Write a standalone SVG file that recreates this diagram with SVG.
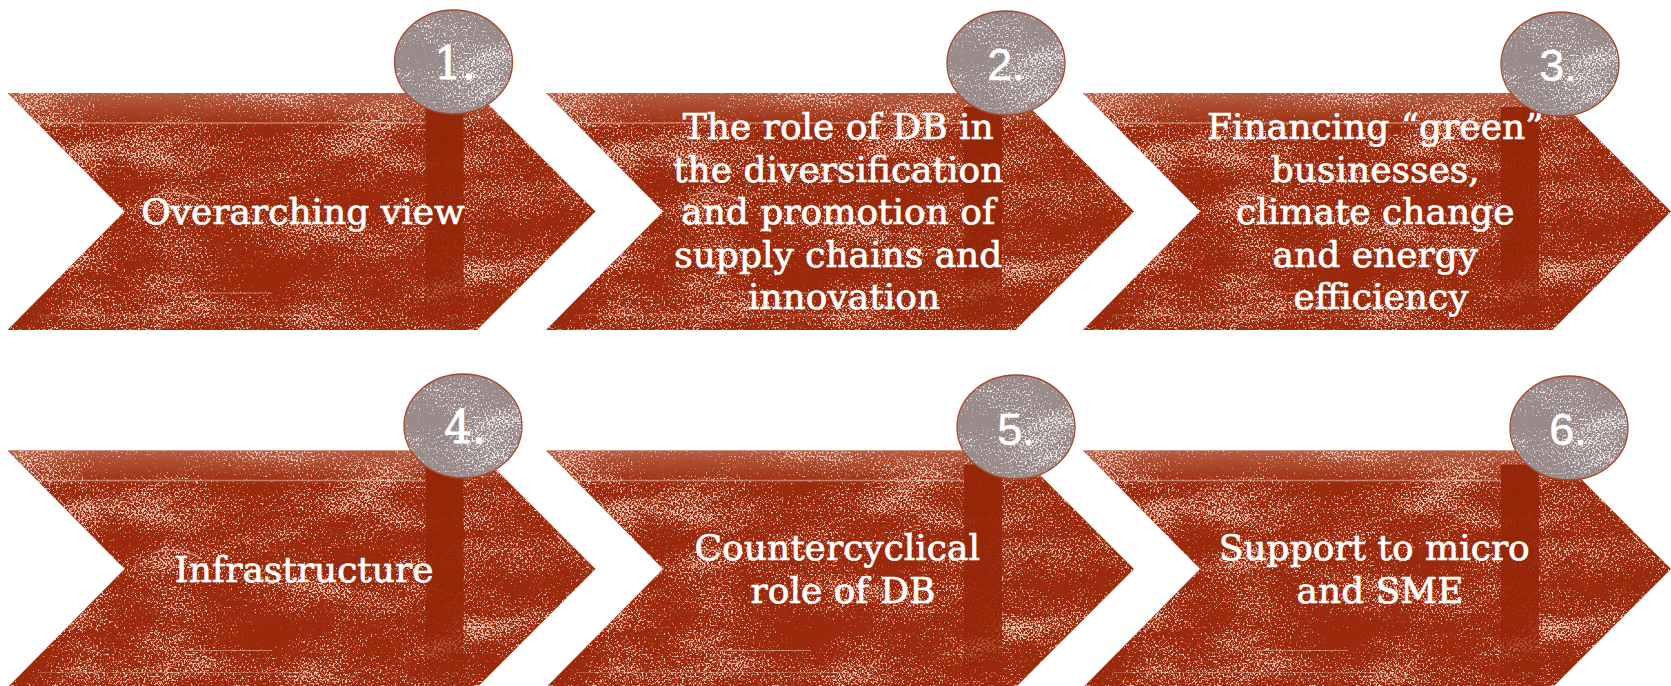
<svg xmlns="http://www.w3.org/2000/svg" xmlns:xlink="http://www.w3.org/1999/xlink" width="1671" height="686" viewBox="0 0 1671 686">
  <style>
    .label { font-family: "DejaVu Serif", "Liberation Serif", serif; font-size: 36px; fill: #ffffff; stroke: #ffffff; stroke-width: 0.7px; text-anchor: middle; }
    .num-sans { font-family: "Liberation Sans", Arial, sans-serif; font-size: 45px; fill: #ffffff; stroke: #ffffff; stroke-width: 0.5px; text-anchor: middle; }
    .num-serif { font-family: "DejaVu Serif", "Liberation Serif", serif; font-size: 44px; fill: #ffffff; stroke: #ffffff; stroke-width: 0.8px; text-anchor: middle; }
    .badge-rim { fill: none; stroke: #a4492f; stroke-width: 1.3; }
  </style>
  <defs>
    <!-- grain: fine noise nudged by a coarse noise, thresholded into small speckles -->
    <filter id="speck" x="0" y="0" width="1" height="1" color-interpolation-filters="sRGB">
      <feTurbulence type="fractalNoise" baseFrequency="0.55" numOctaves="2" seed="7" result="fineRaw"/>
      <feColorMatrix in="fineRaw" type="matrix" values="1 0 0 0 0  0 1 0 0 0  0 0 1 0 0  0 0 0 0 1" result="fine"/>
      <feTurbulence type="fractalNoise" baseFrequency="0.01 0.025" numOctaves="3" seed="11" result="coarseRaw"/>
      <feColorMatrix in="coarseRaw" type="matrix" values="1 0 0 0 0  0 1 0 0 0  0 0 1 0 0  0 0 0 0 1" result="coarse"/>
      <feComposite in="fine" in2="coarse" operator="arithmetic" k1="0" k2="1" k3="0.5" k4="-0.25" result="mix"/>
      <feColorMatrix in="mix" type="matrix" values="0 0 0 0 0  0 0 0 0 0  0 0 0 0 0  7 0 0 0 -4.05" result="mask"/>
      <feComposite in="SourceGraphic" in2="mask" operator="in"/>
    </filter>

    <linearGradient id="stripeFade" x1="0" y1="0" x2="0" y2="1">
      <stop offset="0" stop-color="#942506" stop-opacity="0.95"/>
      <stop offset="0.7" stop-color="#942506" stop-opacity="0.85"/>
      <stop offset="1" stop-color="#942506" stop-opacity="0.3"/>
    </linearGradient>
    <linearGradient id="topHaze" x1="0" y1="0" x2="0" y2="1">
      <stop offset="0" stop-color="#f2d3c5" stop-opacity="0.3"/>
      <stop offset="1" stop-color="#f2d3c5" stop-opacity="0"/>
    </linearGradient>

    <clipPath id="chevClip">
      <path d="M0,0 H469.5 L588,118.5 L469.5,237 H0 L117,118.5 Z"/>
    </clipPath>
    <clipPath id="badgeClip">
      <ellipse cx="0" cy="0" rx="59" ry="52"/>
    </clipPath>

    <!-- textured chevron block, drawn at the origin -->
    <g id="chevron">
      <path d="M0,0 H469.5 L588,118.5 L469.5,237 H0 L117,118.5 Z" fill="#9a2a0b"/>
      <g clip-path="url(#chevClip)">
        <rect x="0" y="0" width="588" height="36" fill="url(#topHaze)"/>
        <rect x="0" y="0" width="588" height="237" fill="#f0c4b2" filter="url(#speck)"/>
        <rect x="418" y="14" width="38" height="223" fill="url(#stripeFade)"/>
        <path d="M40,30 H418" stroke="#f0c9b9" stroke-width="1.4" opacity="0.5"/>
        <path d="M145,103 q12,-5 26,-3 q12,2 22,7" stroke="#f0c9b9" stroke-width="1.3" fill="none" opacity="0.6"/>
        <path d="M175,200 H265" stroke="#f0c9b9" stroke-width="1.2" opacity="0.5"/>
        <path d="M30,222 H300" stroke="#f0c9b9" stroke-width="1.1" opacity="0.3"/>
      </g>
    </g>

    <!-- textured number badge, centred on the origin -->
    <g id="badge">
      <ellipse cx="0" cy="0" rx="59" ry="52" fill="#9a8b8b"/>
      <g clip-path="url(#badgeClip)">
        <rect x="-59" y="-52" width="118" height="104" fill="#ece6e6" filter="url(#speck)"/>
      </g>
      <ellipse class="badge-rim" cx="0" cy="0" rx="59" ry="52"/>
    </g>
  </defs>

  <rect x="0" y="0" width="1671" height="686" fill="#ffffff"/>

  <!-- step chain (chevrons abut one another; no separate connectors) -->
  <g id="connectors"/>

  <g id="step1">
    <use xlink:href="#chevron" href="#chevron" x="7.5" y="93"/>
    <text class="label" x="303" y="224">Overarching view</text>
    <use xlink:href="#badge" href="#badge" x="453.5" y="62"/>
    <text class="num-serif" x="455" y="79">1.</text>
  </g>

  <g id="step2">
    <use xlink:href="#chevron" href="#chevron" x="546" y="93"/>
    <text class="label" x="844">
      <tspan x="844" y="139">The role of DB in</tspan>
      <tspan x="844" y="181.5">the diversification</tspan>
      <tspan x="844" y="224">and promotion of</tspan>
      <tspan x="844" y="266.5">supply chains and</tspan>
      <tspan x="844" y="309">innovation</tspan>
    </text>
    <use xlink:href="#badge" href="#badge" x="1006" y="63"/>
    <text class="num-sans" x="1006" y="80">2.</text>
  </g>

  <g id="step3">
    <use xlink:href="#chevron" href="#chevron" x="1083" y="93"/>
    <text class="label" x="1381">
      <tspan x="1381" y="139">Financing “green”</tspan>
      <tspan x="1381" y="181.5">businesses,</tspan>
      <tspan x="1381" y="224">climate change</tspan>
      <tspan x="1381" y="266.5">and energy</tspan>
      <tspan x="1381" y="309">efficiency</tspan>
    </text>
    <use xlink:href="#badge" href="#badge" x="1560" y="64"/>
    <text class="num-sans" x="1558" y="81">3.</text>
  </g>

  <g id="step4">
    <use xlink:href="#chevron" href="#chevron" x="7.5" y="450.5"/>
    <text class="label" x="304" y="582">Infrastructure</text>
    <use xlink:href="#badge" href="#badge" x="463" y="426"/>
    <text class="num-serif" x="465" y="443">4.</text>
  </g>

  <g id="step5">
    <use xlink:href="#chevron" href="#chevron" x="546" y="450.5"/>
    <text class="label" x="843">
      <tspan x="843" y="560">Countercyclical</tspan>
      <tspan x="843" y="602.5">role of DB</tspan>
    </text>
    <use xlink:href="#badge" href="#badge" x="1016" y="427"/>
    <text class="num-sans" x="1016" y="445">5.</text>
  </g>

  <g id="step6">
    <use xlink:href="#chevron" href="#chevron" x="1083" y="450.5"/>
    <text class="label" x="1380">
      <tspan x="1380" y="560">Support to micro</tspan>
      <tspan x="1380" y="602.5">and SME</tspan>
    </text>
    <use xlink:href="#badge" href="#badge" x="1569" y="428"/>
    <text class="num-sans" x="1568" y="445">6.</text>
  </g>
</svg>
